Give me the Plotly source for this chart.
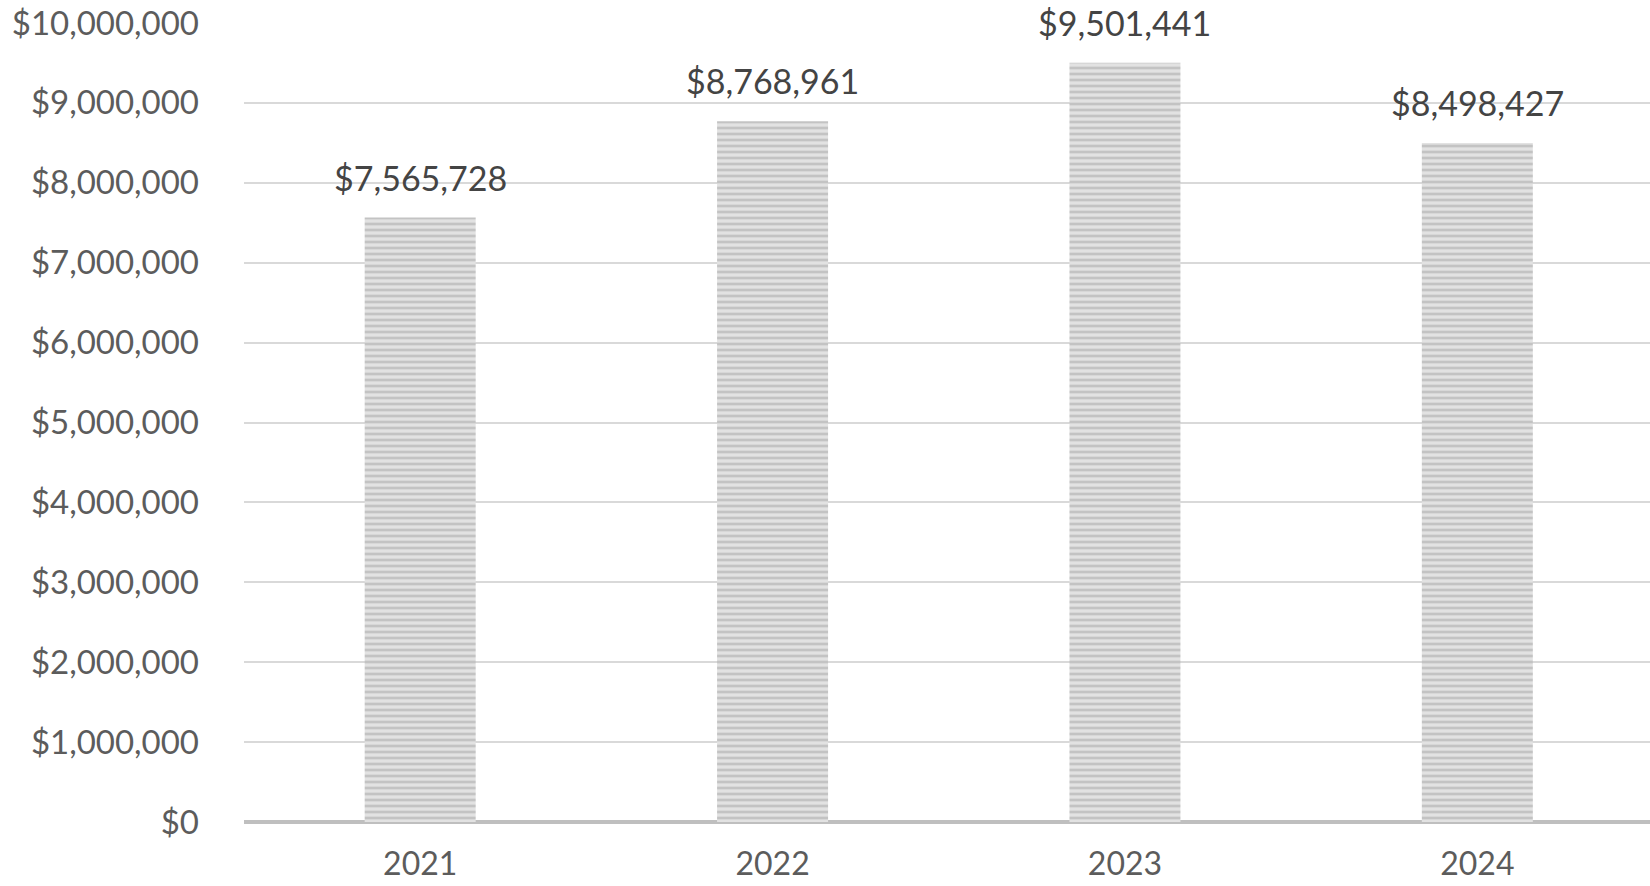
import plotly.graph_objects as go

years = ["2021", "2022", "2023", "2024"]
revenue = [7565728, 8768961, 9501441, 8498427]
y_ticks = list(range(0, 10000001, 1000000))
y_tick_labels = ["${:,}".format(v) for v in y_ticks]

FONT = "Lato, 'Open Sans', sans-serif"
FS = 33

fig = go.Figure()
fig.add_trace(go.Bar(
    x=list(range(len(years))),
    y=revenue,
    width=0.315,
    marker=dict(
        color="#d6d6d6",
        line=dict(width=0),
        pattern=dict(shape="-", size=6, solidity=0.45,
                     fgcolor="#a3a3a3", bgcolor="#e2e2e2"),
    ),
    hoverinfo="skip",
))

for i, v in enumerate(revenue):
    fig.add_annotation(
        x=i, y=v, xref="x", yref="y", text="${:,}".format(v),
        showarrow=False, yanchor="bottom", yshift=18,
        font=dict(family=FONT, size=34, color="#444444"),
    )

fig.update_layout(
    width=1650, height=886,
    margin=dict(l=244, r=0, t=23, b=64, autoexpand=False),
    paper_bgcolor="white", plot_bgcolor="white",
    showlegend=False,
    font=dict(family=FONT, size=FS, color="#5c5c5c"),
    xaxis=dict(
        range=[-0.5, 3.49],
        tickvals=list(range(len(years))), ticktext=years,
        showgrid=False, showline=False, zeroline=False, ticks="",
        automargin=False, ticklabelstandoff=20,
        tickfont=dict(family=FONT, size=32, color="#5c5c5c"),
    ),
    yaxis=dict(
        range=[0, 10000000],
        tickvals=y_ticks, ticktext=y_tick_labels,
        showgrid=True, gridcolor="#d9d9d9", gridwidth=2,
        zeroline=True, zerolinecolor="#bfbfbf", zerolinewidth=4,
        showline=False, ticks="", ticklabelstandoff=44,
        automargin=False,
        tickfont=dict(family=FONT, size=FS, color="#5c5c5c"),
    ),
)

fig.write_html(
    "out.html",
    config={"displayModeBar": False, "staticPlot": True},
    post_script="document.body.style.margin='0';document.body.style.overflow='hidden';",
)
